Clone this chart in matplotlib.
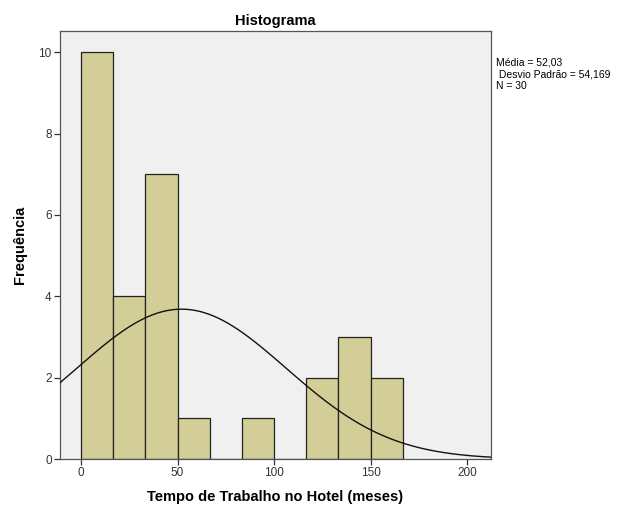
import matplotlib.pyplot as plt
import numpy as np

# dados do histograma (leitura do grafico SPSS)
bin_edges = [0, 16.67, 33.33, 50, 66.67, 83.33, 100, 116.67, 133.33, 150, 166.67]
counts = [10, 4, 7, 1, 0, 1, 0, 2, 3, 2]
media = 52.03
desvio = 54.169
n = 30
xticks = [0, 50, 100, 150, 200]
yticks = [0, 2, 4, 6, 8, 10]

plt.rcParams['font.family'] = ['Liberation Sans', 'DejaVu Sans']

fig = plt.figure(figsize=(6.24, 5.09), dpi=100)
ax = fig.add_axes([0.0962, 0.0982, 0.6907, 0.8409])
ax.set_facecolor('#f0f0f0')

widths = np.diff(bin_edges)
ax.bar(bin_edges[:-1], counts, width=widths, align='edge',
       color='#d3ce97', edgecolor='#222222', linewidth=0.9, zorder=2)

# curva normal
x = np.linspace(-11, 213, 400)
bw = widths[0]
y = n * bw / (desvio * np.sqrt(2 * np.pi)) * np.exp(-0.5 * ((x - media) / desvio) ** 2)
ax.plot(x, y, color='#111111', linewidth=1.0, zorder=3)

ax.set_xlim(-10.9, 212.4)
ax.set_ylim(0, 10.52)
ax.set_xticks(xticks)
ax.set_yticks(yticks)
ax.tick_params(direction='out', length=4, width=0.9, labelsize=8.5,
               colors='#333333', labelcolor='#333333', pad=2)
for s in ax.spines.values():
    s.set_color('#555555')
    s.set_linewidth(0.9)

ax.set_title('Histograma', fontsize=10.5, fontweight='bold', pad=4)
ax.set_xlabel('Tempo de Trabalho no Hotel (meses)', fontsize=10.5, fontweight='bold', labelpad=8)
ax.set_ylabel('Frequência', fontsize=10.5, fontweight='bold', labelpad=8)

fig.text(0.795, 0.887, 'Média = 52,03\n Desvio Padrão = 54,169\nN = 30',
         fontsize=7.5, va='top', ha='left', linespacing=1.2)

fig.savefig('out.png', dpi=100)
